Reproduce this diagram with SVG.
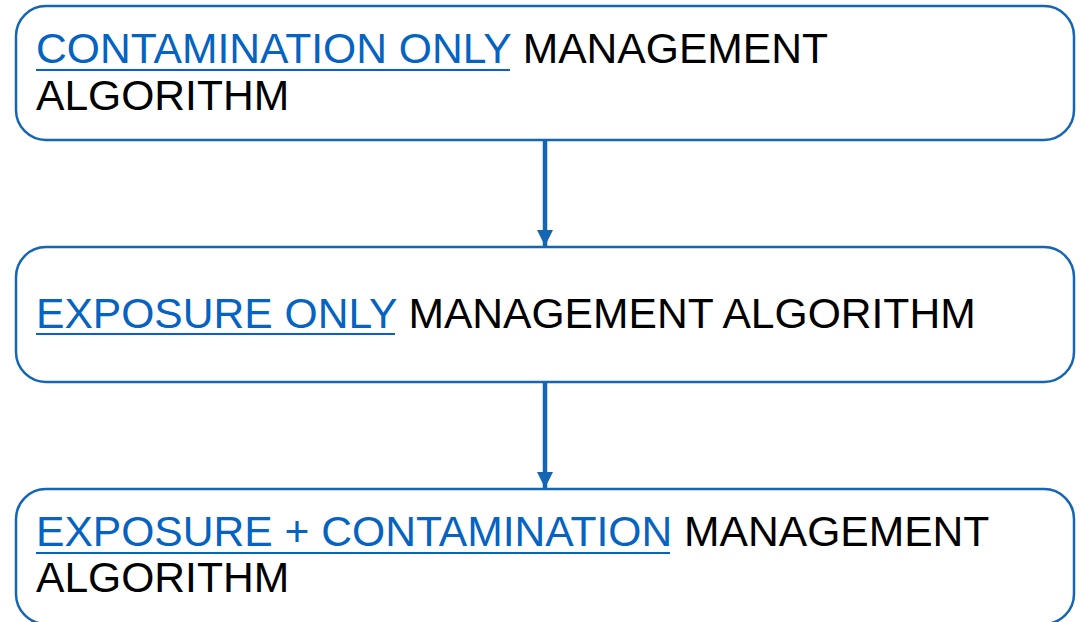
<svg xmlns="http://www.w3.org/2000/svg" width="1081" height="622" viewBox="0 0 1081 622">
  <style>
    .box { fill: #ffffff; stroke: #1565b5; stroke-width: 2.5; }
    .txt { font-family: "Liberation Sans", Arial, sans-serif; font-size: 42.6px; fill: #000000; }
    .link { fill: #0563c1; }
    .ul { stroke: #0563c1; stroke-width: 2; }
    .conn { stroke: #1565b5; stroke-width: 4.5; fill: none; }
  </style>
  <defs>
    <marker id="arrow" markerUnits="userSpaceOnUse" markerWidth="16" markerHeight="18" refX="16" refY="8" orient="auto">
      <path d="M0,0 L16,8 L0,16 Z" fill="#1565b5"/>
    </marker>
  </defs>
  <rect width="1081" height="622" fill="#ffffff"/>

  <g id="connectors">
    <line class="conn" x1="545" y1="141" x2="545" y2="246" marker-end="url(#arrow)"/>
    <line class="conn" x1="545" y1="383" x2="545" y2="488" marker-end="url(#arrow)"/>
  </g>

  <g id="contamination-only">
    <rect class="box" x="16" y="6" width="1058" height="134" rx="30" ry="30"/>
    <text class="txt" x="36" y="63"><tspan class="link">CONTAMINATION ONLY</tspan> MANAGEMENT</text>
    <line class="ul" x1="36" y1="70" x2="510" y2="70"/>
    <text class="txt" x="36" y="110">ALGORITHM</text>
  </g>

  <g id="exposure-only">
    <rect class="box" x="16" y="247" width="1058" height="135" rx="30" ry="30"/>
    <text class="txt" x="36" y="328"><tspan class="link">EXPOSURE ONLY</tspan> MANAGEMENT ALGORITHM</text>
    <line class="ul" x1="36" y1="334" x2="395" y2="334"/>
  </g>

  <g id="exposure-contamination">
    <rect class="box" x="16" y="489" width="1058" height="135" rx="30" ry="30"/>
    <text class="txt" x="36" y="546"><tspan class="link">EXPOSURE + CONTAMINATION</tspan> MANAGEMENT</text>
    <line class="ul" x1="36" y1="553" x2="670" y2="553"/>
    <text class="txt" x="36" y="592">ALGORITHM</text>
  </g>
</svg>
